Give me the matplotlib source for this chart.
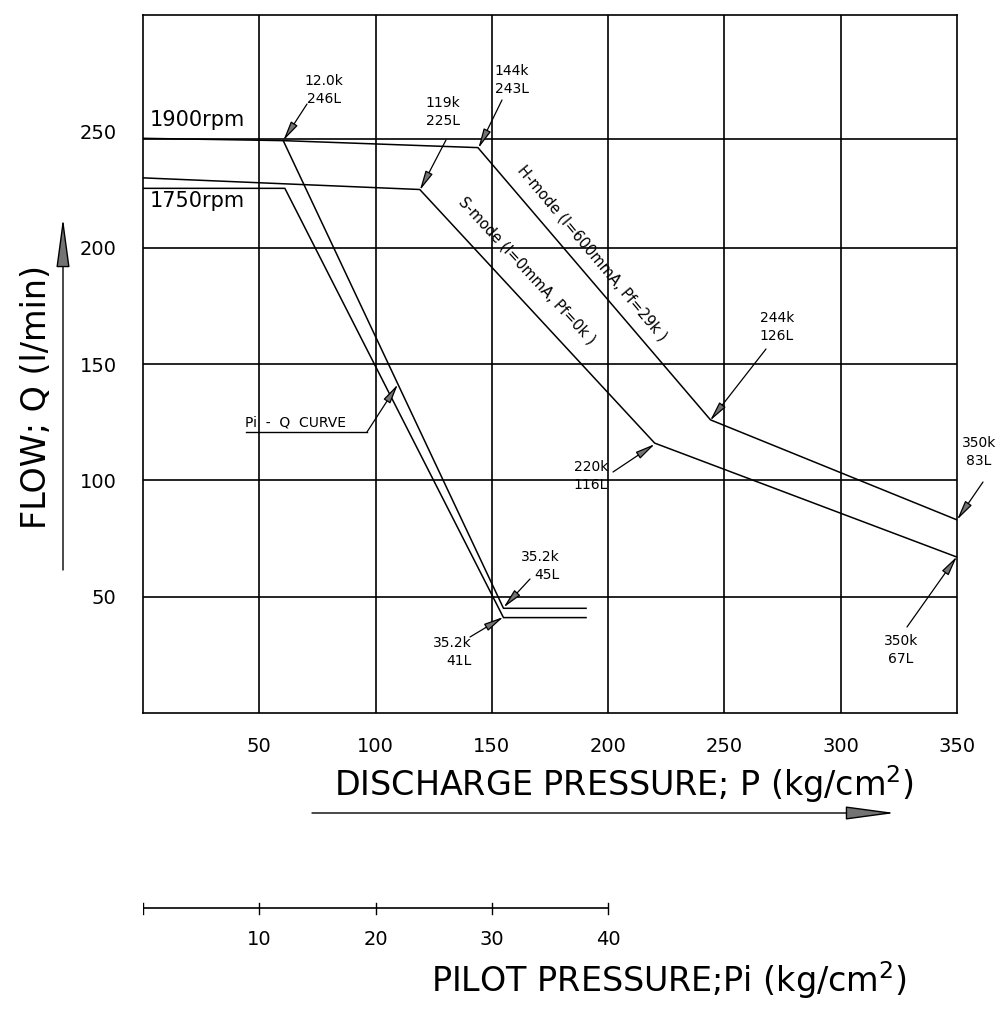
import numpy as np
import matplotlib.pyplot as plt

plt.rcParams['font.family'] = ['DejaVu Sans']
plt.rcParams['mathtext.fontset'] = 'dejavusans'

# discharge pressure P (kg/cm2) vs flow Q (l/min)
h_mode_p = [0, 60.3, 144, 244, 350]
h_mode_q = [247, 246, 243, 126, 83]
s_mode_p = [0, 119, 220, 350]
s_mode_q = [230, 225, 116, 67]
piq_1900_p = [60.3, 155, 190.5]
piq_1900_q = [246, 45, 45]
piq_1750_p = [0, 61, 155, 190.5]
piq_1750_q = [225.5, 225.5, 41, 41]
rated_q = 246.5

x_ticks = [50, 100, 150, 200, 250, 300, 350]
y_ticks = [50, 100, 150, 200, 250]
grid_x = [50, 100, 150, 200, 250, 300]
grid_y = [50, 100, 150, 200]
pilot_ticks = [0, 10, 20, 30, 40]
pilot_labels = ['', '10', '20', '30', '40']

ann_labels = ['12.0k\n246L', '144k\n243L', '119k\n225L', '244k\n126L', '350k\n83L',
              '350k\n67L', '220k\n116L', '35.2k\n45L', '35.2k\n41L']
ann_points = [(60.3, 246), (144.2, 242.7), (119, 224.6), (243.8, 125.6), (350, 83),
              (350, 67.3), (220.1, 115.6), (155, 45.3), (155, 41.3)]

W, H = 1005, 1015
fig = plt.figure(figsize=(W / 100, H / 100), dpi=100)
ax = fig.add_axes([143 / W, (H - 713) / H, 814 / W, 698 / H])
ax.set_xlim(0, 350)
ax.set_ylim(0, 300)


def fp(x, y):
    # reference pixel (top-left origin) -> figure pixels
    return (x, H - y)


def ftext(x, y, s, **kw):
    fig.text(x / W, 1 - y / H, s, **kw)


lw = 1.2
for s in ax.spines.values():
    s.set_linewidth(lw)
for g in grid_x:
    ax.axvline(g, color='black', lw=lw)
for g in grid_y:
    ax.axhline(g, color='black', lw=lw)
ax.axhline(rated_q, color='black', lw=lw)

for p, q in [(h_mode_p, h_mode_q), (s_mode_p, s_mode_q),
             (piq_1900_p, piq_1900_q), (piq_1750_p, piq_1750_q)]:
    ax.plot(p, q, color='black', lw=1.1)

ax.set_xticks(x_ticks)
ax.set_yticks(y_ticks)
ax.tick_params(length=0, labelsize=14, pad=17)
ax.tick_params(axis='y', pad=19)

ax.text(3, 255, '1900rpm', fontsize=15, va='center')
ax.text(3, 220, '1750rpm', fontsize=15, va='center')

arrow = dict(arrowstyle='-|>,head_length=1.0,head_width=0.2', color='black',
             lw=0.9, fc='0.45', shrinkA=0, shrinkB=0, mutation_scale=12)

tails = [(307, 104), (502, 100), (446, 140), (766, 349), (983, 482),
         (907, 627), (613, 472), (530, 579), (470, 637)]
text_pos = [(324, 90), (512, 80), (443, 112), (777, 327), (979, 452),
            (901, 650), (591, 476), (540, 566), (452, 652)]
aligns = ['center', 'center', 'center', 'center', 'center', 'center', 'right', 'right', 'right']
for lab, pt, tl, tp, al in zip(ann_labels, ann_points, tails, text_pos, aligns):
    ax.annotate('', xy=pt, xytext=fp(*tl), textcoords='figure pixels', arrowprops=arrow)
    ftext(tp[0], tp[1], lab, fontsize=10, ha='center', va='center',
          multialignment=al, linespacing=1.35)

ftext(592, 253, 'H-mode (I=600mmA, Pf=29k )', fontsize=10.5, rotation=-50,
      rotation_mode='anchor', ha='center', va='center')
ftext(527, 271, 'S-mode (I=0mmA, Pf=0k )', fontsize=10.5, rotation=-47.3,
      rotation_mode='anchor', ha='center', va='center')

# Pi - Q curve callout
q_hit = 141.3
p_hit = np.interp(q_hit, piq_1900_q[1::-1], piq_1900_p[1::-1])
ftext(245, 422, 'Pi  -  Q  CURVE', fontsize=10, ha='left', va='center')
fig.add_artist(plt.Line2D([246 / W, 367 / W], [1 - 432 / H, 1 - 432 / H],
                          color='black', lw=1.0))
ax.annotate('', xy=(p_hit, q_hit), xytext=fp(367, 432), textcoords='figure pixels',
            arrowprops=arrow)

# axis titles with arrows
ftext(36, 397, 'FLOW; Q (l/min)', fontsize=24, rotation=90, ha='center', va='center')
big_arrow = dict(arrowstyle='-|>,head_length=2.6,head_width=0.35', color='black',
                 lw=1.0, fc='0.45', shrinkA=0, shrinkB=0, mutation_scale=12)
fig.add_artist(plt.matplotlib.patches.FancyArrowPatch(
    fp(63, 570), fp(63, 218), transform=None, **big_arrow))
ftext(624, 784, 'DISCHARGE PRESSURE; P (kg/cm$^2$)', fontsize=24, ha='center', va='center')
fig.add_artist(plt.matplotlib.patches.FancyArrowPatch(
    fp(312, 813), fp(895, 813), transform=None, **big_arrow))

# pilot pressure scale
pax = fig.add_axes([143 / W, (H - 930) / H, 814 / W, 44 / H])
pax.set_xlim(0, 70)
pax.set_ylim(-1, 1)
pax.axis('off')
pax.plot([pilot_ticks[0], pilot_ticks[-1]], [0, 0], color='black', lw=1.2)
for t, lab in zip(pilot_ticks, pilot_labels):
    pax.plot([t, t], [-0.25, 0.25], color='black', lw=1.0)
    pax.text(t, -1.45, lab, fontsize=14, ha='center', va='center')
ftext(669, 980, 'PILOT PRESSURE;Pi (kg/cm$^2$)', fontsize=24, ha='center', va='center')

fig.savefig('out.png', dpi=100, facecolor='white')
